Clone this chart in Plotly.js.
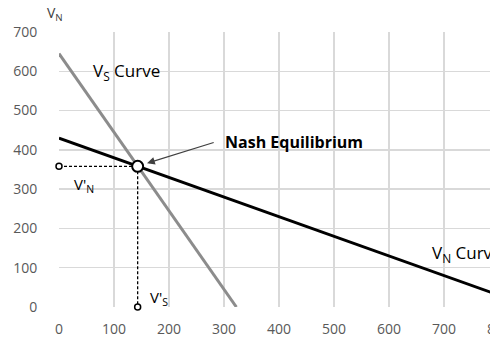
<!DOCTYPE html>
<html>
<head>
<meta charset="utf-8">
<script src="https://cdn.plot.ly/plotly-3.0.1.min.js"></script>
<style>
html,body{margin:0;padding:0;overflow:hidden;background:#fff;}
#wrap{width:490px;height:338px;overflow:hidden;}
#chart{width:520px;height:338px;}
</style>
</head>
<body>
<div id="wrap"><div id="chart"></div></div>
<script>
// Data
const vsX = [0, 322.5];      // V_S curve
const vsY = [645, 0];
const vnX = [0, 800];        // V_N curve
const vnY = [430, 30];
const eqX = 143;             // Nash equilibrium V'_S
const eqY = 358;             // Nash equilibrium V'_N
const xTicks = [0,100,200,300,400,500,600,700,800];
const yTicks = [0,100,200,300,400,500,600,700];

const traces = [
  {x: vsX, y: vsY, mode:'lines', line:{color:'#8c8c8c', width:3}, hoverinfo:'skip'},
  {x: vnX, y: vnY, mode:'lines', line:{color:'#000000', width:3}, hoverinfo:'skip'},
  {x: [0, eqX], y: [eqY, eqY], mode:'lines', line:{color:'#000', width:1.3, dash:'3px,2px'}},
  {x: [eqX, eqX], y: [eqY, 0], mode:'lines', line:{color:'#000', width:1.3, dash:'3px,2px'}},
  {x: [0, eqX], y: [eqY, 0], mode:'markers', cliponaxis:false, marker:{size:6, color:'#fff', line:{color:'#000', width:1.5}}},
  {x: [eqX], y: [eqY], mode:'markers', cliponaxis:false, marker:{size:11, color:'#fff', line:{color:'#000', width:2}}}
];

const F = 'Open Sans, sans-serif';
const layout = {
  width: 520, height: 338,
  margin: {l:59, r:21, t:32, b:31},
  showlegend: false,
  paper_bgcolor:'#fff', plot_bgcolor:'#fff',
  font:{family:F, size:14, color:'#595959'},
  xaxis: {range:[0,800], tickvals:xTicks, showgrid:true, gridcolor:'#d9d9d9', gridwidth:1.3,
          zeroline:false, showline:false, ticks:'outside', ticklen:9, tickcolor:'rgba(0,0,0,0)',
          tickfont:{family:F, size:14, color:'#595959'}, fixedrange:true},
  yaxis: {range:[0,700], tickvals:yTicks, showgrid:true, gridcolor:'#d9d9d9', gridwidth:1.3,
          zeroline:false, showline:false, ticks:'outside', ticklen:18, tickcolor:'rgba(0,0,0,0)',
          tickfont:{family:F, size:14, color:'#595959'}, fixedrange:true},
  annotations: [
    {xref:'paper', yref:'paper', x:-0.009, y:1.02, xanchor:'center', yanchor:'bottom', showarrow:false,
     text:'V<sub>N</sub>', font:{family:F, size:14, color:'#404040'}},
    {x:58, y:600, xanchor:'left', yanchor:'middle', showarrow:false,
     text:'V<sub>S</sub> Curve', font:{family:F, size:17, color:'#000'}},
    {x:298, y:420, xanchor:'left', yanchor:'middle', showarrow:false,
     text:'<b>Nash Equilibrium</b>', font:{family:F, size:16, color:'#000'}},
    {x:160, y:366, ax:284, ay:420, axref:'x', ayref:'y', text:'', showarrow:true,
     arrowhead:2, arrowsize:1.3, arrowwidth:1.2, arrowcolor:'#404040'},
    {x:24, y:310, xanchor:'left', yanchor:'middle', showarrow:false,
     text:"V'<sub>N</sub>", font:{family:F, size:15, color:'#000'}},
    {x:162, y:22, xanchor:'left', yanchor:'middle', showarrow:false,
     text:"V'<sub>S</sub>", font:{family:F, size:15, color:'#000'}},
    {x:675, y:137, xanchor:'left', yanchor:'middle', showarrow:false,
     text:'V<sub>N</sub> Curve', font:{family:F, size:17, color:'#000'}}
  ]
};
Plotly.newPlot('chart', traces, layout, {displayModeBar:false, staticPlot:true});
</script>
</body>
</html>
